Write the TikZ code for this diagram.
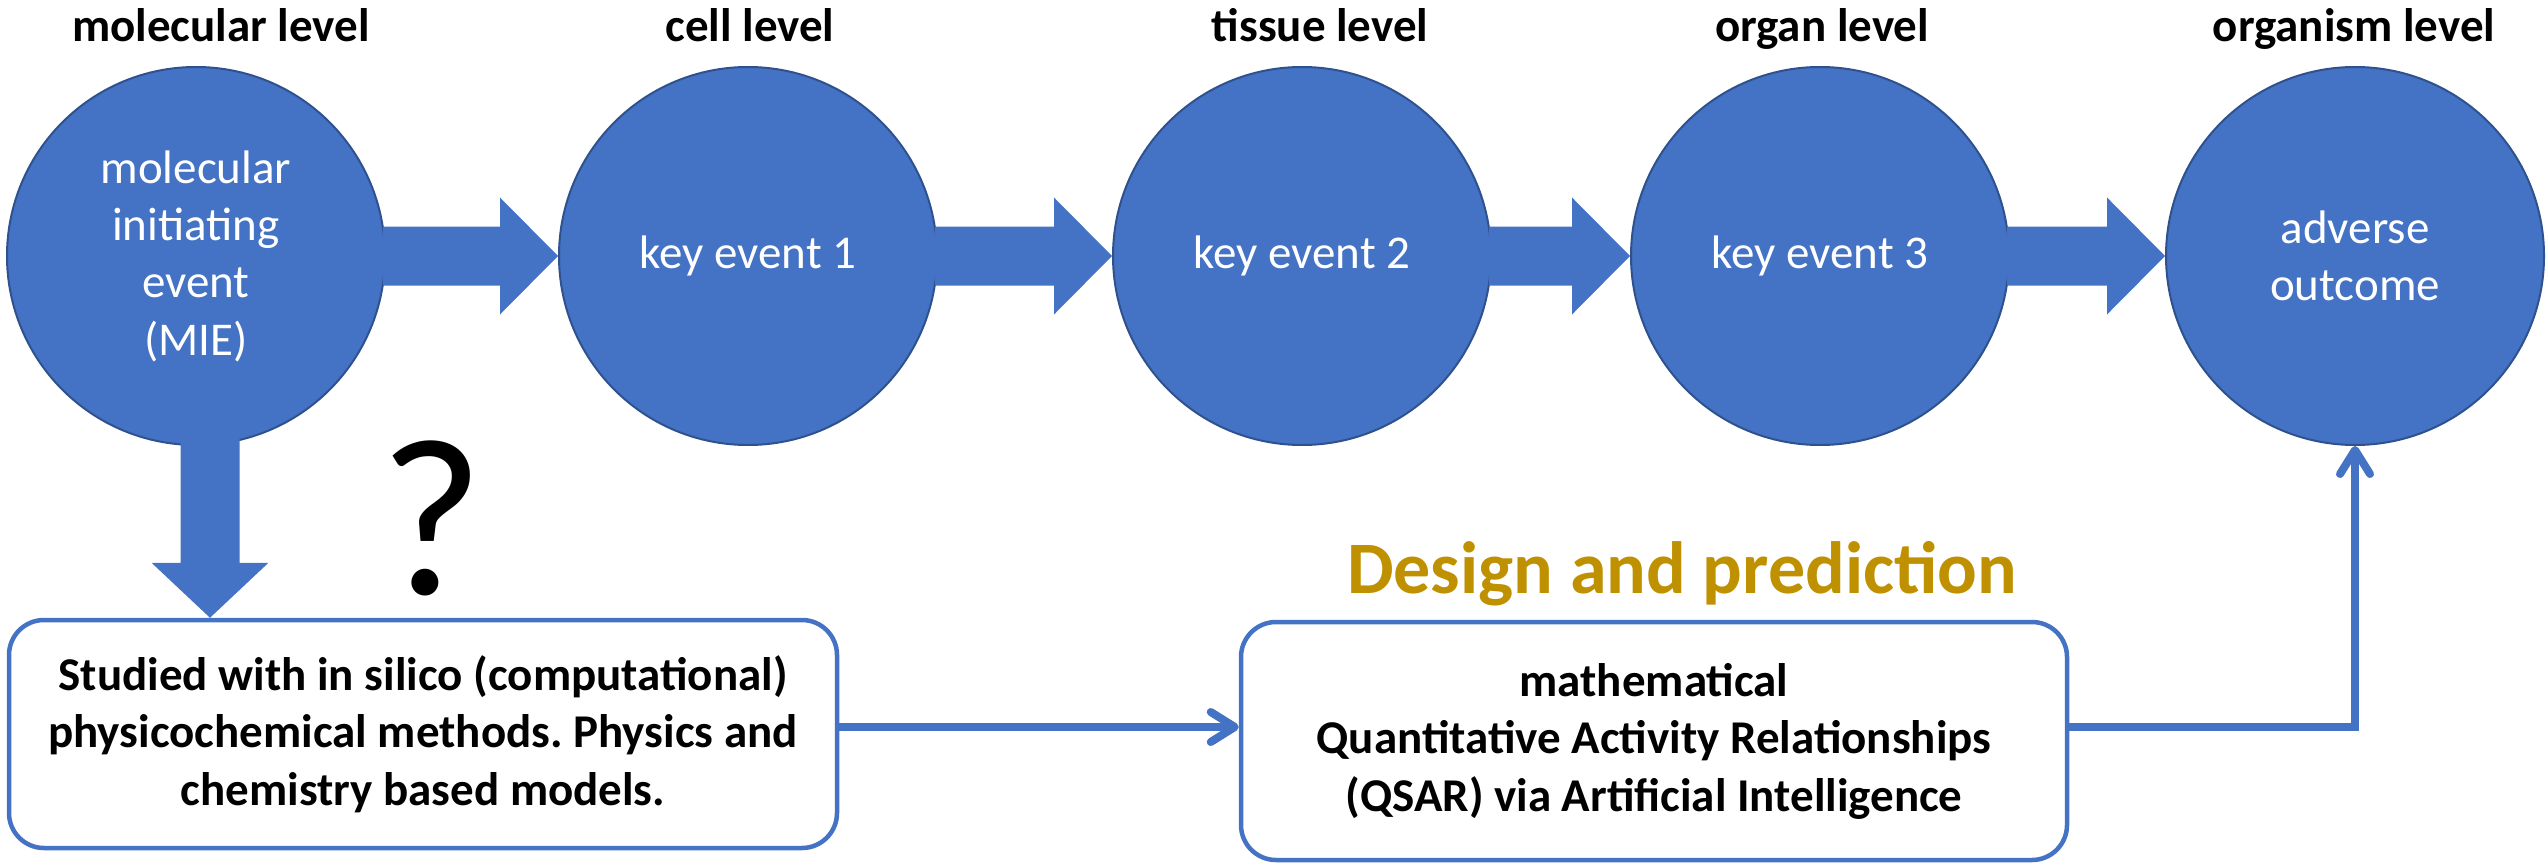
\documentclass[tikz,border=0pt]{standalone}
\usepackage{fontspec}
\setmainfont{Carlito}
\usetikzlibrary{arrows.meta,calc}
\definecolor{aopblue}{HTML}{4472C4}
\definecolor{aopedge}{HTML}{2F528F}
\definecolor{aopgold}{HTML}{BF9000}
\frenchspacing

% Wide block arrow from one stage circle to the next
\newcommand{\aopstep}[2]{%
  \fill[aopblue]
    ($(#1.east)+(-3,-29.5)$) -- ($(#2.west)+(-58,-29.5)$) --
    ($(#2.west)+(-58,-58.5)$) -- (#2.west) --
    ($(#2.west)+(-58,58.5)$) -- ($(#2.west)+(-58,29.5)$) --
    ($(#1.east)+(-3,29.5)$) -- cycle;}

\begin{document}
\begin{tikzpicture}[x=1pt,y=-1pt,
  stage/.style={circle, fill=aopblue, draw=aopedge, line width=2pt,
    minimum size=378pt, inner sep=0pt, text=white, align=center,
    font=\fontsize{47}{57.3}\selectfont},
  level/.style={anchor=base, inner sep=0pt,
    font=\fontsize{47}{57}\selectfont\bfseries},
  infobox/.style={draw=aopblue, line width=4.5pt, rounded corners=35pt,
    fill=white, align=center, inner sep=0pt,
    font=\fontsize{47}{57.5}\selectfont\bfseries},
  link/.style={draw=aopblue, line width=8pt,
    -{Straight Barb[length=24pt, width=30pt, line cap=round, line join=round]}}
]
\useasboundingbox (0,0) rectangle (2547,864);

% stages of the pathway
\node[stage] (c1) at (196,256) {molecular\\initiating\\event\\(MIE)};
\node[stage] (c2) at (748,256) {key event 1};
\node[stage] (c3) at (1302,256) {key event 2};
\node[stage] (c4) at (1820,256) {key event 3};
\node[stage] (c5) at (2355,256) {adverse\\outcome};

% biological levels
\node[level] (l1) at (221,42) {molecular level};
\node[level] (l2) at (750,42) {cell level};
\node[level] (l3) at (1320,42) {tissue level};
\node[level] (l4) at (1822,42) {organ level};
\node[level] (l5) at (2354,42) {organism level};

% block arrows between stages
\aopstep{c1}{c2}
\aopstep{c2}{c3}
\aopstep{c3}{c4}
\aopstep{c4}{c5}

% modelling boxes
\node[infobox, minimum width=828pt, minimum height=228pt] (box1) at (423,734)
  {Studied with in silico (computational)\\physicochemical methods. Physics and\\chemistry based models.};
\node[infobox, minimum width=826pt, minimum height=238pt] (box2) at (1654,741)
  {mathematical\\Quantitative Activity Relationships\\(QSAR) via Artificial Intelligence};

\node[anchor=base, inner sep=0pt, text=aopgold,
  font=\fontsize{74}{80}\selectfont\bfseries] (title) at (1682,593) {Design and prediction};
\node[anchor=base, inner sep=0pt, font=\fontsize{225}{225}\selectfont] (qm) at (432,594) {?};

% downward block arrow from the MIE to the first box
\coordinate (dtip) at ($(c1.center |- box1.north)+(14,0)$);
\fill[aopblue]
  ($(c1.south -| dtip)+(-29.5,-12)$) -- ($(dtip)+(-29.5,-55)$) --
  ($(dtip)+(-58.5,-55)$) -- (dtip) -- ($(dtip)+(58.5,-55)$) --
  ($(dtip)+(29.5,-55)$) -- ($(c1.south -| dtip)+(29.5,-12)$) -- cycle;

% thin connectors
\draw[link] ([yshift=7pt]box1.east) -- ([yshift=14pt]box2.west);
\draw[link] ([yshift=14pt]box2.east) -| (c5.south);
\end{tikzpicture}
\end{document}
